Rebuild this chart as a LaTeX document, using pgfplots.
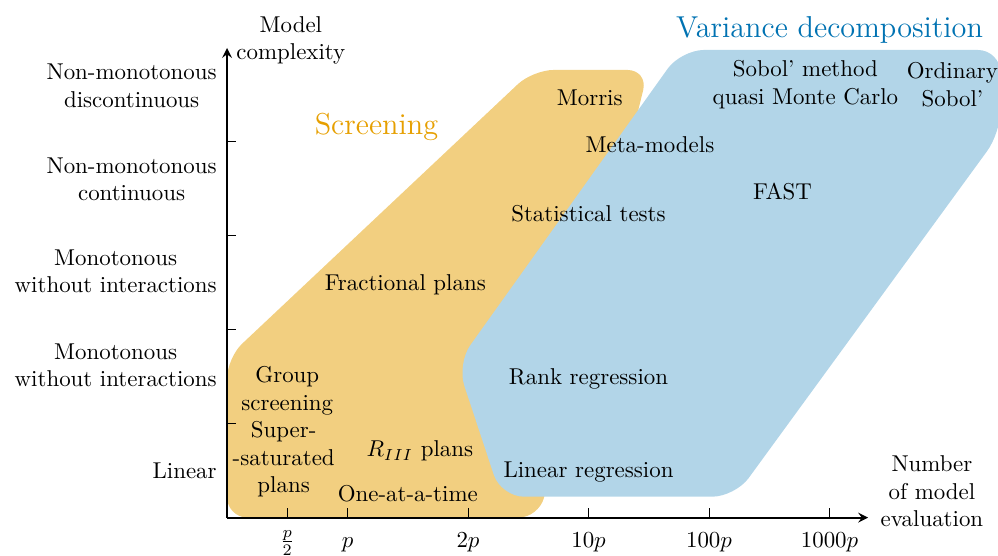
\documentclass[border=0pt]{standalone}
\usepackage{pgfplots}
\pgfplotsset{compat=1.18}
\definecolor{myorange}{HTML}{E69F00}
\definecolor{myblue}{HTML}{0072B2}
\begin{document}
\begin{tikzpicture}
\begin{axis}[
  x=52.6pt, y=41pt,
  xmin=0, xmax=5.32, ymin=0, ymax=5.0,
  axis lines=left,
  axis line style={line width=0.9pt},
  tick style={line width=0.4pt, black},
  tick align=inside,
  major tick length=4pt,
  xtick={0.5,1,2,3,4,5},
  xticklabels={$\frac{p}{2}$,$p$,$2p$,$10p$,$100p$,$1000p$},
  xticklabel style={anchor=base, yshift=-13.1pt},
  ytick={1,2,3,4},
  yticklabels={,,,},
  extra y ticks={0.5,1.62,2.62,3.6,4.6},
  extra y tick labels={Linear,Monotonous\\without interactions,Monotonous\\without interactions,Non-monotonous\\continuous,Non-monotonous\\discontinuous},
  extra y tick style={major tick length=0pt},
  yticklabel style={align=center, xshift=-1pt},
  clip=false,
  axis on top,
]
\addplot[draw=none, fill=myorange!50, rounded corners=9pt] coordinates {
  (0,0) (0,1.70) (2.539,4.766) (3.494,4.766) (2.59,0)
} -- cycle;
\addplot[draw=none, fill=myblue!30, rounded corners=10pt] coordinates {
  (3.768,4.979) (6.42,4.979) (6.42,4.10) (4.216,0.223) (2.274,0.223) (1.909,1.638)
} -- cycle;

\node[text=myorange, font=\fontsize{13.2}{16}\selectfont] at (axis cs:1.24,4.16) {Screening};
\node[text=myblue, font=\fontsize{13.2}{16}\selectfont] at (axis cs:5.00,5.19) {Variance decomposition};

\node at (axis cs:3.01,4.47) {Morris};
\node at (axis cs:3.51,3.97) {Meta-models};
\node at (axis cs:3.0,3.24) {Statistical tests};
\node at (axis cs:4.61,3.47) {FAST};
\node[align=center] at (axis cs:4.80,4.61) {Sobol' method\\quasi Monte Carlo};
\node[align=center] at (axis cs:6.02,4.61) {Ordinary\\Sobol'};
\node at (axis cs:1.48,2.48) {Fractional plans};
\node[align=center] at (axis cs:0.5,1.35) {Group\\screening};
\node[align=center] at (axis cs:0.47,0.62) {Super-\\-saturated\\plans};
\node at (axis cs:1.6,0.71) {$R_{III}$ plans};
\node at (axis cs:1.50,0.26) {One-at-a-time};
\node at (axis cs:3.0,1.48) {Rank regression};
\node at (axis cs:3.0,0.49) {Linear regression};

\node[align=center] at (axis cs:0.53,5.08) {Model\\complexity};
\node[align=center] at (axis cs:5.85,0.28) {Number\\of model\\evaluation};

\coordinate (bbSW) at (axis cs:-1.884,-0.404);
\coordinate (bbNE) at (axis cs:6.398,5.511);
\end{axis}
\pgfresetboundingbox
\path[use as bounding box] (bbSW) rectangle (bbNE);
\end{tikzpicture}
\end{document}
